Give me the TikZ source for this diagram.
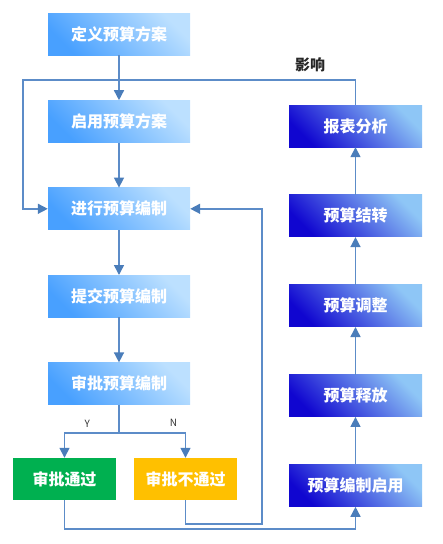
\documentclass[tikz,border=0pt]{standalone}
\usepackage{fontspec}
\setmainfont{Noto Sans CJK SC}
\usetikzlibrary{positioning,arrows.meta}
\definecolor{FlowLine}{RGB}{92,140,200}
\definecolor{FlowTip}{RGB}{74,125,186}
\definecolor{StepDark}{RGB}{72,160,255}
\definecolor{StepLight}{RGB}{188,224,255}
\definecolor{ReportDark}{RGB}{16,6,208}
\definecolor{ReportLight}{RGB}{142,198,246}
\definecolor{PassGreen}{RGB}{0,176,80}
\definecolor{FailAmber}{RGB}{255,192,0}

\begin{document}
\begin{tikzpicture}[x=1pt,y=-1pt,
node distance=45pt,
box/.style={rectangle,minimum height=42pt,inner sep=0pt,align=center,
text=white,font=\fontsize{16}{19}\selectfont\bfseries},
stepbox/.style={box,minimum width=142pt,bottom color=StepDark,top color=StepLight,shading angle=-45},
reportbox/.style={box,minimum width=133pt,bottom color=ReportDark,top color=ReportLight,shading angle=-45},
resultbox/.style={box,minimum width=103pt},
arrow/.style={-{Triangle[length=10pt,width=10pt,color=FlowTip]},line width=1.5pt,draw=FlowLine},
line/.style={line width=1.5pt,draw=FlowLine},
lbl/.style={font=\fontsize{10}{12}\selectfont,text=black!80,inner sep=1pt}
]
\useasboundingbox (0,0) rectangle (443,544);
\node[stepbox] (a) at (119,34) {定义预算方案};
\node[stepbox,below=of a] (b) {启用预算方案};
\node[stepbox,below=of b] (c) {进行预算编制};
\node[stepbox,below=of c] (d) {提交预算编制};
\node[stepbox,below=of d] (e) {审批预算编制};
\node[resultbox,fill=PassGreen] (p) at (64.5,479) {审批通过};
\node[resultbox,fill=FailAmber] (q) at (185.5,479) {审批不通过};
\node[reportbox] (f) at (355.5,126) {报表分析};
\node[reportbox,below=47.5pt of f] (g) {预算结转};
\node[reportbox,below=47.5pt of g] (h) {预算调整};
\node[reportbox,below=47.5pt of h] (i) {预算释放};
\node[reportbox,below=47.5pt of i] (j) {预算编制启用};
\draw[arrow] (a)--(b); \draw[arrow] (b)--(c); \draw[arrow] (c)--(d);
\draw[arrow] (d)--(e);
\draw[line] (e.south) -- ++(0,28) coordinate (split);
\draw[arrow] (split) -| node[lbl,pos=0.29,above=4pt] (ly) {Y} (p.north);
\draw[arrow] (split) -| node[lbl,pos=0.41,above=5pt] (ln) {N} (q.north);
\draw[arrow] (p.south) -- ++(0,29) -| (j.south);
\draw[arrow] (q.south) -- ++(0,24) -| ([xshift=72pt]c.east) -- (c.east);
\draw[arrow] (j)--(i); \draw[arrow] (i)--(h); \draw[arrow] (h)--(g);
\draw[arrow] (g)--(f);
\draw[arrow] (f.north) -- ++(0,-25) -| ([xshift=-25pt]c.west) -- (c.west);
\node[lbl,font=\fontsize{15}{18}\selectfont\bfseries,text=black!85] (inf) at (310,65) {影响};
\end{tikzpicture}
\end{document}
